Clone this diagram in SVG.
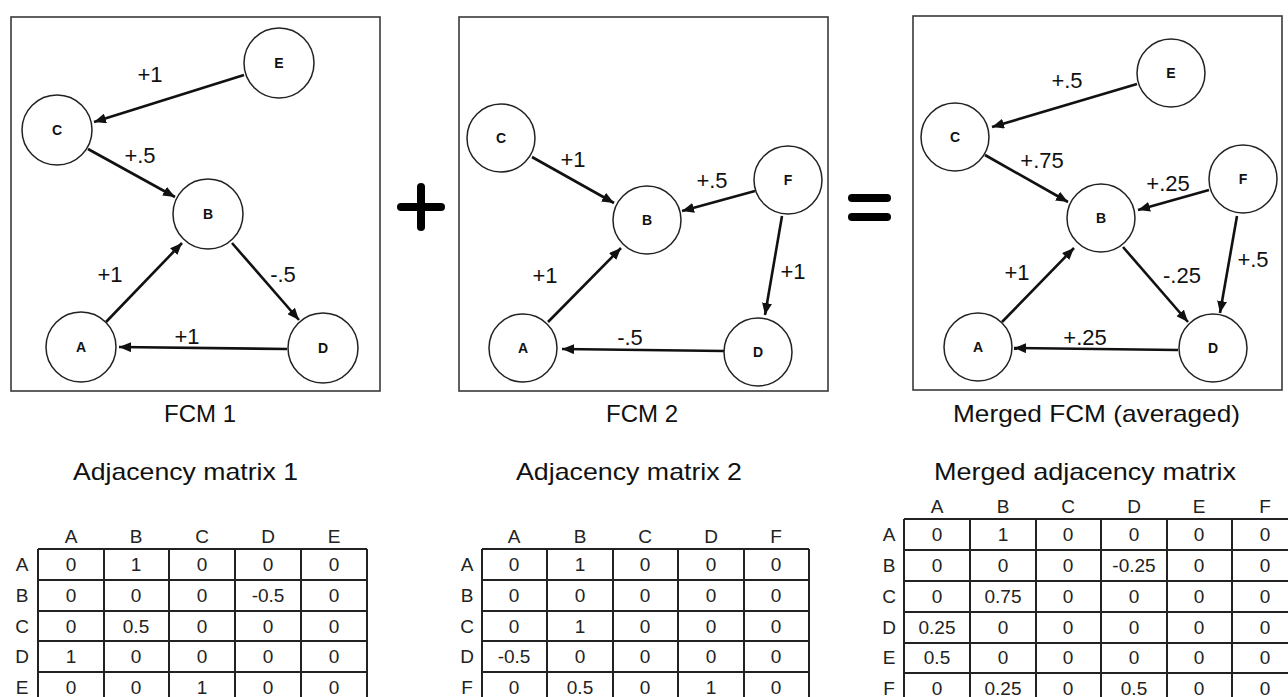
<svg xmlns="http://www.w3.org/2000/svg" width="1288" height="697" viewBox="0 0 1288 697">
<style>
.panel{fill:#fff;stroke:#3a3a3a;stroke-width:1.6}
.node circle{fill:#fff;stroke:#222;stroke-width:1.5}
.node text{font-family:"Liberation Sans",Arial,sans-serif;font-weight:bold;font-size:14px;text-anchor:middle;fill:#111}
.edge{stroke:#111;stroke-width:2.6;fill:none;marker-end:url(#arr)}
.el{font-family:"Liberation Sans",Arial,sans-serif;font-size:22px;text-anchor:middle;fill:#111}
.cap{font-family:"Liberation Sans",Arial,sans-serif;font-size:24px;fill:#111}
.hd{font-family:"Liberation Sans",Arial,sans-serif;font-size:19px;text-anchor:middle;fill:#222}
.grid{stroke:#222;stroke-width:2;fill:none}
.op{stroke:#000;stroke-width:8;stroke-linecap:round}
</style>
<defs>
<marker id="arr" markerUnits="userSpaceOnUse" markerWidth="13" markerHeight="10" refX="12" refY="5" orient="auto">
<path d="M0,0 L12,5 L0,10 z" fill="#111"/>
</marker>
</defs>
<rect width="1288" height="697" fill="#fff"/>

<!-- Panel 1 -->
<g id="panel1">
<rect class="panel" x="11" y="17" width="369" height="374"/>
<g id="connectors1">
<line class="edge" x1="244" y1="75" x2="94" y2="122"/>
<line class="edge" x1="88" y1="149" x2="175" y2="197"/>
<line class="edge" x1="106" y1="322" x2="182" y2="243"/>
<line class="edge" x1="232" y1="243" x2="299" y2="320"/>
<line class="edge" x1="287" y1="349" x2="119" y2="347"/>
<text class="el" x="150" y="82">+1</text>
<text class="el" x="140" y="163">+.5</text>
<text class="el" x="110" y="282">+1</text>
<text class="el" x="283" y="282">-.5</text>
<text class="el" x="187" y="344">+1</text>
</g>
<g id="p1E" class="node"><circle cx="279" cy="63" r="35"/><text x="279" y="68">E</text></g>
<g id="p1C" class="node"><circle cx="57" cy="130" r="35"/><text x="57" y="135">C</text></g>
<g id="p1B" class="node"><circle cx="208" cy="214" r="35"/><text x="208" y="219">B</text></g>
<g id="p1A" class="node"><circle cx="81" cy="347" r="35"/><text x="81" y="352">A</text></g>
<g id="p1D" class="node"><circle cx="323" cy="348" r="35"/><text x="323" y="353">D</text></g>
</g>

<!-- plus -->
<g id="plus">
<line class="op" x1="401" y1="207" x2="441" y2="207"/>
<line class="op" x1="421" y1="187" x2="421" y2="227"/>
</g>

<!-- Panel 2 -->
<g id="panel2">
<rect class="panel" x="459" y="17" width="369" height="374"/>
<g id="connectors2">
<line class="edge" x1="532" y1="157" x2="614" y2="203"/>
<line class="edge" x1="755" y1="191" x2="682" y2="211"/>
<line class="edge" x1="782" y1="216" x2="765" y2="315"/>
<line class="edge" x1="548" y1="322" x2="621" y2="248"/>
<line class="edge" x1="724" y1="351" x2="562" y2="349"/>
<text class="el" x="573" y="167">+1</text>
<text class="el" x="712" y="188">+.5</text>
<text class="el" x="793" y="279">+1</text>
<text class="el" x="545" y="283">+1</text>
<text class="el" x="630" y="345">-.5</text>
</g>
<g id="p2C" class="node"><circle cx="501" cy="138" r="34"/><text x="501" y="143">C</text></g>
<g id="p2B" class="node"><circle cx="647" cy="220" r="34"/><text x="647" y="225">B</text></g>
<g id="p2F" class="node"><circle cx="788" cy="180" r="34"/><text x="788" y="185">F</text></g>
<g id="p2A" class="node"><circle cx="523" cy="348" r="34"/><text x="523" y="353">A</text></g>
<g id="p2D" class="node"><circle cx="758" cy="352" r="34"/><text x="758" y="357">D</text></g>
</g>

<!-- equals -->
<g id="equals">
<line class="op" x1="852" y1="198" x2="887" y2="198" stroke-width="7"/>
<line class="op" x1="852" y1="217" x2="887" y2="217" stroke-width="7"/>
</g>

<!-- Panel 3 -->
<g id="panel3">
<rect class="panel" x="913" y="16" width="369" height="374"/>
<g id="connectors3">
<line class="edge" x1="1137" y1="84" x2="992" y2="127"/>
<line class="edge" x1="985" y1="155" x2="1068" y2="202"/>
<line class="edge" x1="1209" y1="190" x2="1138" y2="210"/>
<line class="edge" x1="1237" y1="216" x2="1220" y2="313"/>
<line class="edge" x1="1002" y1="322" x2="1074" y2="248"/>
<line class="edge" x1="1123" y1="247" x2="1188" y2="322"/>
<line class="edge" x1="1178" y1="350" x2="1014" y2="348"/>
<text class="el" x="1067" y="88">+.5</text>
<text class="el" x="1042" y="168">+.75</text>
<text class="el" x="1168" y="191">+.25</text>
<text class="el" x="1253" y="267">+.5</text>
<text class="el" x="1017" y="280">+1</text>
<text class="el" x="1182" y="283">-.25</text>
<text class="el" x="1085" y="345">+.25</text>
</g>
<g id="p3E" class="node"><circle cx="1171" cy="73" r="34"/><text x="1171" y="78">E</text></g>
<g id="p3C" class="node"><circle cx="955" cy="137" r="34"/><text x="955" y="142">C</text></g>
<g id="p3F" class="node"><circle cx="1243" cy="179" r="34"/><text x="1243" y="184">F</text></g>
<g id="p3B" class="node"><circle cx="1101" cy="218" r="34"/><text x="1101" y="223">B</text></g>
<g id="p3A" class="node"><circle cx="978" cy="347" r="34"/><text x="978" y="352">A</text></g>
<g id="p3D" class="node"><circle cx="1213" cy="348" r="34"/><text x="1213" y="353">D</text></g>
</g>

<!-- captions -->
<text class="cap" x="200" y="422" text-anchor="middle">FCM 1</text>
<text class="cap" x="642" y="422" text-anchor="middle">FCM 2</text>
<text class="cap" x="953" y="422" textLength="287" lengthAdjust="spacingAndGlyphs">Merged FCM (averaged)</text>

<text class="cap" x="73" y="480" font-size="25" textLength="225" lengthAdjust="spacingAndGlyphs">Adjacency matrix 1</text>
<text class="cap" x="516" y="480" font-size="25" textLength="226" lengthAdjust="spacingAndGlyphs">Adjacency matrix 2</text>
<text class="cap" x="934" y="480" font-size="25" textLength="302" lengthAdjust="spacingAndGlyphs">Merged adjacency matrix</text>

<!-- Matrix 1 -->
<g id="matrix1">
<path class="grid" d="M38,549 H367 M38,580 H367 M38,611 H367 M38,641 H367 M38,672 H367 M38,703 H367 M38,549 V703 M104,549 V703 M169,549 V703 M235,549 V703 M301,549 V703 M367,549 V703"/>
<g class="hd">
<text x="71" y="543">A</text><text x="136" y="543">B</text><text x="202" y="543">C</text><text x="268" y="543">D</text><text x="334" y="543">E</text>
<text x="22" y="571">A</text><text x="22" y="602">B</text><text x="22" y="633">C</text><text x="22" y="663">D</text><text x="22" y="694">E</text>
<text x="71" y="571">0</text><text x="136" y="571">1</text><text x="202" y="571">0</text><text x="268" y="571">0</text><text x="334" y="571">0</text>
<text x="71" y="602">0</text><text x="136" y="602">0</text><text x="202" y="602">0</text><text x="268" y="602">-0.5</text><text x="334" y="602">0</text>
<text x="71" y="633">0</text><text x="136" y="633">0.5</text><text x="202" y="633">0</text><text x="268" y="633">0</text><text x="334" y="633">0</text>
<text x="71" y="663">1</text><text x="136" y="663">0</text><text x="202" y="663">0</text><text x="268" y="663">0</text><text x="334" y="663">0</text>
<text x="71" y="694">0</text><text x="136" y="694">0</text><text x="202" y="694">1</text><text x="268" y="694">0</text><text x="334" y="694">0</text>
</g>
</g>

<!-- Matrix 2 -->
<g id="matrix2">
<path class="grid" d="M482,549 H809 M482,580 H809 M482,611 H809 M482,641 H809 M482,672 H809 M482,703 H809 M482,549 V703 M547,549 V703 M613,549 V703 M678,549 V703 M744,549 V703 M809,549 V703"/>
<g class="hd">
<text x="514" y="543">A</text><text x="580" y="543">B</text><text x="645" y="543">C</text><text x="711" y="543">D</text><text x="776" y="543">F</text>
<text x="467" y="571">A</text><text x="467" y="602">B</text><text x="467" y="633">C</text><text x="467" y="663">D</text><text x="467" y="694">F</text>
<text x="514" y="571">0</text><text x="580" y="571">1</text><text x="645" y="571">0</text><text x="711" y="571">0</text><text x="776" y="571">0</text>
<text x="514" y="602">0</text><text x="580" y="602">0</text><text x="645" y="602">0</text><text x="711" y="602">0</text><text x="776" y="602">0</text>
<text x="514" y="633">0</text><text x="580" y="633">1</text><text x="645" y="633">0</text><text x="711" y="633">0</text><text x="776" y="633">0</text>
<text x="514" y="663">-0.5</text><text x="580" y="663">0</text><text x="645" y="663">0</text><text x="711" y="663">0</text><text x="776" y="663">0</text>
<text x="514" y="694">0</text><text x="580" y="694">0.5</text><text x="645" y="694">0</text><text x="711" y="694">1</text><text x="776" y="694">0</text>
</g>
</g>

<!-- Matrix 3 -->
<g id="matrix3">
<path class="grid" d="M904,519 H1298 M904,550 H1298 M904,581 H1298 M904,612 H1298 M904,643 H1298 M904,673 H1298 M904,704 H1298 M904,519 V704 M970,519 V704 M1036,519 V704 M1101,519 V704 M1167,519 V704 M1232,519 V704"/>
<g class="hd">
<text x="937" y="513">A</text><text x="1003" y="513">B</text><text x="1068" y="513">C</text><text x="1134" y="513">D</text><text x="1199" y="513">E</text><text x="1265" y="513">F</text>
<text x="889" y="541">A</text><text x="889" y="572">B</text><text x="889" y="603">C</text><text x="889" y="634">D</text><text x="889" y="664">E</text><text x="889" y="695">F</text>
<text x="937" y="541">0</text><text x="1003" y="541">1</text><text x="1068" y="541">0</text><text x="1134" y="541">0</text><text x="1199" y="541">0</text><text x="1265" y="541">0</text>
<text x="937" y="572">0</text><text x="1003" y="572">0</text><text x="1068" y="572">0</text><text x="1134" y="572">-0.25</text><text x="1199" y="572">0</text><text x="1265" y="572">0</text>
<text x="937" y="603">0</text><text x="1003" y="603">0.75</text><text x="1068" y="603">0</text><text x="1134" y="603">0</text><text x="1199" y="603">0</text><text x="1265" y="603">0</text>
<text x="937" y="634">0.25</text><text x="1003" y="634">0</text><text x="1068" y="634">0</text><text x="1134" y="634">0</text><text x="1199" y="634">0</text><text x="1265" y="634">0</text>
<text x="937" y="664">0.5</text><text x="1003" y="664">0</text><text x="1068" y="664">0</text><text x="1134" y="664">0</text><text x="1199" y="664">0</text><text x="1265" y="664">0</text>
<text x="937" y="695">0</text><text x="1003" y="695">0.25</text><text x="1068" y="695">0</text><text x="1134" y="695">0.5</text><text x="1199" y="695">0</text><text x="1265" y="695">0</text>
</g>
</g>
</svg>
